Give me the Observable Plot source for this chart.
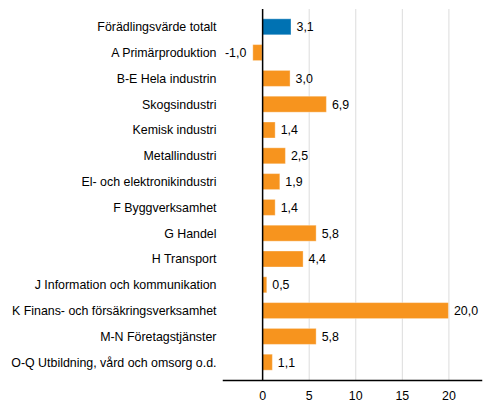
<!DOCTYPE html>
<html><head><meta charset="utf-8">
<script src="https://cdn.jsdelivr.net/npm/d3@7"></script>
<script src="https://cdn.jsdelivr.net/npm/@observablehq/plot@0.6"></script>
<style>body{margin:0;background:#fff;font-family:"Liberation Sans",Arial,sans-serif;}</style>
</head><body><div id="chart"></div>
<script>
const categories = ["Förädlingsvärde totalt","A Primärproduktion","B-E Hela industrin","Skogsindustri","Kemisk industri","Metallindustri","El- och elektronikindustri","F Byggverksamhet","G Handel","H Transport","J Information och kommunikation","K Finans- och försäkringsverksamhet","M-N Företagstjänster","O-Q Utbildning, vård och omsorg o.d."];
const values = [3.1,-1.0,3.0,6.9,1.4,2.5,1.9,1.4,5.8,4.4,0.5,20.0,5.8,1.1];
const xTicks = [0,5,10,15,20];

const data = categories.map((c,i)=>({cat:c, v:values[i], total:i===0}));
const fmt = v => d3.format(".1f")(v).replace(".", ",").replace("−","-");

const chart = Plot.plot({
  width: 491, height: 416,
  marginLeft: 223, marginRight: 10, marginTop: 9, marginBottom: 36,
  style: {fontFamily: '"Liberation Sans", Arial, sans-serif', fontSize: "12.4px", color: "#000", background: "#fff"},
  x: {domain: [-4.2, 23.5], ticks: xTicks, tickSize: 0, tickPadding: 11, label: null, tickFormat: d=>String(d)},
  y: {domain: categories, padding: 0.38, round: false, label: null, tickSize: 0, tickPadding: 7},
  marks: [
    Plot.ruleX(xTicks.filter(d=>d!==0), {stroke: "#dcdcdc", strokeWidth: 1}),
    Plot.barX(data, {y: "cat", x: "v", fill: d => d.total ? "#0072b3" : "#f7941e", stroke: "white", strokeOpacity: 0.35, strokeWidth: 1}),
    Plot.text(data.filter(d=>d.v>=0), {y: "cat", x: "v", text: d => fmt(d.v), textAnchor: "start", dx: 5, fill: "#000", fontSize: 12.4}),
    Plot.text(data.filter(d=>d.v<0), {y: "cat", x: "v", text: d => fmt(d.v), textAnchor: "end", dx: -7, fill: "#000", fontSize: 12.4}),
    Plot.ruleX([0], {stroke: "#000", strokeWidth: 1.5}),
    Plot.frame({anchor: "bottom", stroke: "#000", strokeWidth: 1.5})
  ]
});
document.getElementById("chart").appendChild(chart);
</script></body></html>
